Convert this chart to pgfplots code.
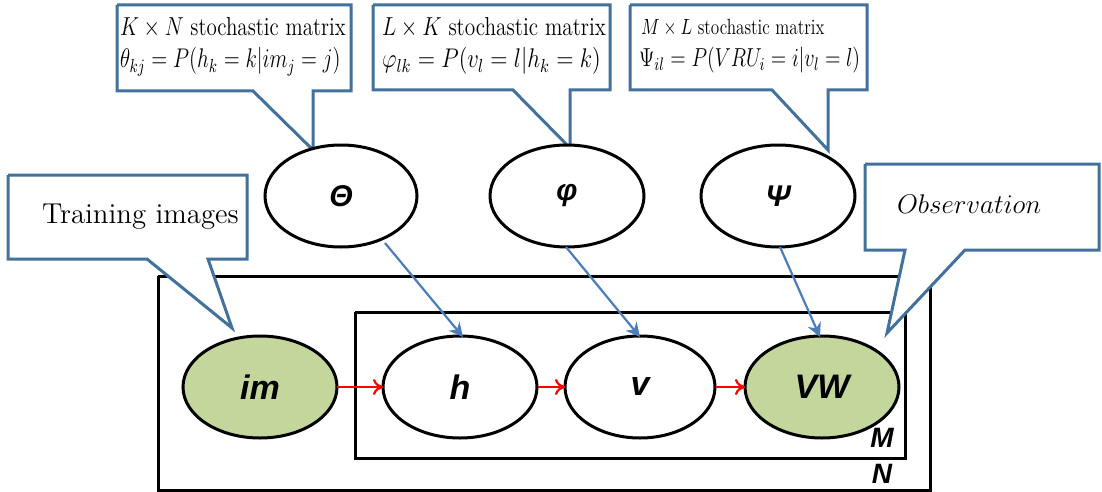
\RequirePackage{fix-cm}
\documentclass[border=0pt]{standalone}
\usepackage{pgfplots}
\pgfplotsset{compat=1.18}
\usepackage{graphicx}
\usepackage{fontspec}
\newfontfamily\nodefont{Liberation Sans}
\usetikzlibrary{shapes.geometric,arrows.meta}
\definecolor{callout}{HTML}{41719C}
\definecolor{arrowblue}{HTML}{4A7EBB}
\definecolor{obsgreen}{HTML}{C3D69B}
\newcommand\ctext[3]{\scalebox{#2}[1]{\fontsize{#1}{#1}\selectfont #3}}
\tikzset{txt/.style={inner sep=0pt, outer sep=0pt, anchor=base west}}
\begin{document}
\begin{tikzpicture}
\begin{axis}[
  scale only axis, width=551pt, height=246pt,
  xmin=0, xmax=1102, ymin=0, ymax=492, y dir=reverse,
  axis lines=none, clip=false,
]
% full extent of the picture
\addplot[draw=none] coordinates {(0,0) (1102,492)};
% plates
\addplot[black, line width=1.5pt] coordinates {(158,276) (930,276) (930,490) (158,490) (158,276)};
\addplot[black, line width=1.5pt] coordinates {(355,312) (905,312) (905,458) (355,458) (355,312)};
% callouts
\addplot[callout, line width=1.5pt, fill=white] coordinates {(117,5) (351,5) (351,91) (313,91) (313,150) (253,91) (117,91) (117,5)};
\addplot[callout, line width=1.5pt, fill=white] coordinates {(373,5) (610,5) (610,90) (570,90) (570,148) (513,90) (373,90) (373,5)};
\addplot[callout, line width=1.5pt, fill=white] coordinates {(630,5) (867,5) (867,90) (828,90) (828,150) (772,90) (630,90) (630,5)};
\addplot[callout, line width=1.5pt, fill=white] coordinates {(8,175) (247,175) (247,259) (208,259) (232,328) (147,259) (8,259) (8,175)};
\addplot[callout, line width=1.5pt, fill=white] coordinates {(865,164) (1099,164) (1099,250) (965,250) (887,333) (905,250) (865,250) (865,164)};
% callout texts
\node[txt] at (axis cs:120,36) {\ctext{13}{0.81}{$K\times N$ stochastic matrix}};
\node[txt] at (axis cs:120,68) {\ctext{13.5}{0.775}{$\theta_{kj}=P(h_k=k|im_j=j)$}};
\node[txt] at (axis cs:382,36) {\ctext{13}{0.82}{$L\times K$ stochastic matrix}};
\node[txt] at (axis cs:382,68) {\ctext{13.5}{0.84}{$\varphi_{lk}=P(v_l=l|h_k=k)$}};
\node[txt] at (axis cs:641,35) {\ctext{11}{0.78}{$M\times L$ stochastic matrix}};
\node[txt] at (axis cs:639,67) {\ctext{13}{0.78}{$\Psi_{il}=P(VRU_i=i|v_l=l)$}};
\node[txt, font=\fontsize{14.4}{16}\selectfont] at (axis cs:42,223) {Training images};
\node[txt, font=\fontsize{13.5}{16}\selectfont] at (axis cs:897,213) {$Observation$};
% ellipses
\node[ellipse, draw=black, line width=1.5pt, fill=white, minimum width=76pt, minimum height=51pt, font=\nodefont\bfseries\itshape\fontsize{15}{18}\selectfont] at (axis cs:341,196) {Θ};
\node[ellipse, draw=black, line width=1.5pt, fill=white, minimum width=77pt, minimum height=51pt, font=\nodefont\bfseries\itshape\fontsize{15}{18}\selectfont] at (axis cs:567,196) {φ};
\node[ellipse, draw=black, line width=1.5pt, fill=white, minimum width=77pt, minimum height=51pt, font=\nodefont\bfseries\itshape\fontsize{15}{18}\selectfont] at (axis cs:778,196) {Ψ};
\node[ellipse, draw=black, line width=1.5pt, fill=obsgreen, minimum width=77pt, minimum height=51pt, font=\nodefont\bfseries\itshape\fontsize{17}{20}\selectfont] at (axis cs:260,387) {im};
\node[ellipse, draw=black, line width=1.5pt, fill=white, minimum width=77pt, minimum height=51pt, font=\nodefont\bfseries\itshape\fontsize{17}{20}\selectfont] at (axis cs:460,387) {h};
\node[ellipse, draw=black, line width=1.5pt, fill=white, minimum width=75pt, minimum height=51pt, font=\nodefont\bfseries\itshape\fontsize{17}{20}\selectfont] at (axis cs:640,387) {v};
\node[ellipse, draw=black, line width=1.5pt, fill=obsgreen, minimum width=77pt, minimum height=51pt, font=\nodefont\bfseries\itshape\fontsize{17}{20}\selectfont] at (axis cs:822,387) {VW};
% blue arrows
\addplot[arrowblue, line width=1.1pt, -{Stealth[length=7pt,width=7pt]}] coordinates {(385,243) (463,337)};
\addplot[arrowblue, line width=1.1pt, -{Stealth[length=7pt,width=7pt]}] coordinates {(566,247) (640,337)};
\addplot[arrowblue, line width=1.1pt, -{Stealth[length=7pt,width=7pt]}] coordinates {(780,247) (820,337)};
% red arrows
\addplot[red, line width=1.1pt, -{To[length=5pt,width=8pt]}] coordinates {(337,387) (383,387)};
\addplot[red, line width=1.1pt, -{To[length=5pt,width=8pt]}] coordinates {(538,387) (565,387)};
\addplot[red, line width=1.1pt, -{To[length=5pt,width=8pt]}] coordinates {(716,387) (745,387)};
% plate labels
\node[font=\nodefont\bfseries\itshape\fontsize{14}{16}\selectfont] at (axis cs:882,438) {M};
\node[font=\nodefont\bfseries\itshape\fontsize{14}{16}\selectfont] at (axis cs:882,474) {N};
\end{axis}
\end{tikzpicture}
\end{document}
